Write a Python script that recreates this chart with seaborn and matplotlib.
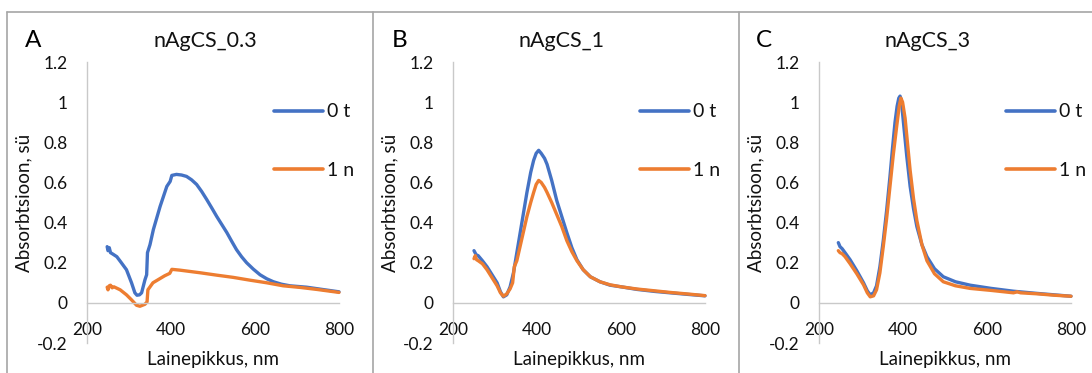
import pandas as pd
import matplotlib.pyplot as plt
import seaborn as sns
from matplotlib.lines import Line2D

# Data (wavelength in nm, absorbance)

a_t0_wl = [248, 250, 253, 256, 260, 271, 280, 294, 306, 314, 319, 325, 330, 338, 342, 344,
           350, 358, 374, 390, 398, 402, 413, 425, 437, 449, 461, 473, 485, 497, 509, 521,
           533, 545, 556, 568, 580, 596, 612, 628, 644, 663, 683, 723, 763, 800]
a_t0_abs = [0.28, 0.26, 0.275, 0.25, 0.245, 0.23, 0.205, 0.165, 0.10, 0.05, 0.038, 0.04, 0.05,
            0.115, 0.14, 0.25, 0.29, 0.365, 0.48, 0.58, 0.605, 0.635, 0.64, 0.637, 0.63,
            0.613, 0.59, 0.555, 0.515, 0.473, 0.43, 0.39, 0.35, 0.305, 0.265, 0.23, 0.20,
            0.168, 0.14, 0.12, 0.105, 0.093, 0.085, 0.078, 0.066, 0.055]

a_n1_wl = [248, 250, 253, 256, 260, 264, 279, 294, 306, 318, 326, 338, 343, 345, 357, 369,
           385, 397, 402, 421, 469, 509, 548, 588, 628, 667, 707, 747, 800]
a_n1_abs = [0.078, 0.065, 0.085, 0.088, 0.075, 0.08, 0.065, 0.04, 0.015, -0.012, -0.017,
            -0.007, 0.005, 0.065, 0.10, 0.115, 0.135, 0.147, 0.167, 0.163, 0.15, 0.138,
            0.127, 0.113, 0.10, 0.085, 0.077, 0.067, 0.052]

b_t0_wl = [250, 255, 260, 270, 281, 293, 305, 313, 320, 328, 336, 344, 352, 364, 376, 385,
           392, 398, 404, 410, 418, 424, 435, 447, 459, 471, 483, 495, 510, 527, 550, 574,
           600, 638, 680, 717, 760, 800]
b_t0_abs = [0.26, 0.24, 0.235, 0.21, 0.18, 0.14, 0.10, 0.055, 0.03, 0.04, 0.08, 0.15, 0.25,
            0.40, 0.55, 0.65, 0.71, 0.745, 0.76, 0.745, 0.72, 0.69, 0.61, 0.51, 0.43, 0.35,
            0.275, 0.215, 0.165, 0.13, 0.105, 0.088, 0.08, 0.067, 0.057, 0.05, 0.042, 0.035]

b_n1_wl = [250, 253, 256, 260, 270, 281, 293, 305, 313, 320, 328, 336, 342, 346, 352, 364,
           376, 385, 392, 398, 404, 410, 418, 424, 435, 447, 459, 471, 483, 495, 510, 527,
           550, 574, 600, 638, 680, 717, 760, 800]
b_n1_abs = [0.22, 0.235, 0.215, 0.21, 0.195, 0.165, 0.125, 0.085, 0.05, 0.033, 0.045, 0.07,
            0.10, 0.18, 0.21, 0.32, 0.43, 0.50, 0.55, 0.59, 0.61, 0.60, 0.575, 0.55, 0.50,
            0.44, 0.38, 0.31, 0.255, 0.21, 0.165, 0.13, 0.105, 0.09, 0.08, 0.069, 0.06,
            0.052, 0.044, 0.036]

c_t0_wl = [246, 250, 255, 262, 274, 290, 306, 315, 322, 330, 337, 345, 353, 361, 369, 375,
           381, 386, 390, 393, 396, 401, 409, 417, 425, 433, 445, 457, 475, 496, 525, 560,
           610, 663, 720, 760, 800]
c_t0_abs = [0.30, 0.28, 0.27, 0.25, 0.215, 0.16, 0.10, 0.06, 0.04, 0.05, 0.085, 0.18, 0.31,
            0.46, 0.63, 0.77, 0.90, 0.98, 1.02, 1.03, 1.01, 0.90, 0.73, 0.58, 0.47, 0.38,
            0.29, 0.23, 0.17, 0.13, 0.105, 0.088, 0.072, 0.058, 0.047, 0.04, 0.033]

c_n1_wl = [246, 250, 255, 262, 274, 290, 306, 315, 322, 330, 337, 345, 353, 361, 369, 377,
           385, 391, 395, 399, 405, 411, 417, 425, 433, 445, 457, 475, 496, 525, 560, 610,
           663, 672, 680, 720, 760, 800]
c_n1_abs = [0.26, 0.25, 0.245, 0.23, 0.195, 0.145, 0.09, 0.05, 0.03, 0.035, 0.065, 0.15,
            0.28, 0.42, 0.58, 0.74, 0.88, 0.98, 1.02, 1.00, 0.92, 0.79, 0.66, 0.52, 0.41,
            0.29, 0.21, 0.145, 0.105, 0.085, 0.072, 0.062, 0.05, 0.055, 0.05, 0.045, 0.038,
            0.033]

series_names = ["0 t", "1 n"]
panel_titles = ["nAgCS_0.3", "nAgCS_1", "nAgCS_3"]
panel_letters = ["A", "B", "C"]
x_ticks = [200, 400, 600, 800]
y_ticks = [-0.2, 0, 0.2, 0.4, 0.6, 0.8, 1, 1.2]
y_tick_labels = ["-0.2", "0", "0.2", "0.4", "0.6", "0.8", "1", "1.2"]
x_label = "Lainepikkus, nm"
y_label = "Absorbtsioon, sü"

panels = [
    ((a_t0_wl, a_t0_abs), (a_n1_wl, a_n1_abs)),
    ((b_t0_wl, b_t0_abs), (b_n1_wl, b_n1_abs)),
    ((c_t0_wl, c_t0_abs), (c_n1_wl, c_n1_abs)),
]

# Layout (pixels of the 1092x373 picture)
W, H = 1092, 373
axes_left_px = [87, 453, 819]
title_center_px = [205, 562, 928]
letter_left_px = [25, 392, 756]
border_x_px = [7, 373, 739]

sns.set_theme(style="white")
plt.rcParams['font.family'] = ['Lato', 'DejaVu Sans']

palette = {"0 t": "#4472C4", "1 n": "#ED7D31"}
axis_grey = "#C9C9C9"
text_col = "#111111"

fig = plt.figure(figsize=(W / 100, H / 100), dpi=100)

# panel borders
fig.add_artist(Line2D([7 / W, 1], [1 - 12 / H, 1 - 12 / H], transform=fig.transFigure,
                      color="#A6A6A6", lw=1.2))
for bx in border_x_px:
    fig.add_artist(Line2D([bx / W, bx / W], [0, 1 - 12 / H], transform=fig.transFigure,
                          color="#A6A6A6", lw=1.2))

for i, (s0, s1) in enumerate(panels):
    df = pd.concat([
        pd.DataFrame({"wl": s0[0], "abs": s0[1], "series": series_names[0]}),
        pd.DataFrame({"wl": s1[0], "abs": s1[1], "series": series_names[1]}),
    ])
    ax = fig.add_axes([axes_left_px[i] / W, 30 / H, 252 / W, 281 / H])
    sns.lineplot(data=df, x="wl", y="abs", hue="series", palette=palette,
                 estimator=None, sort=False, linewidth=2.4, ax=ax, clip_on=False)

    ax.set_xlim(200, 800)
    ax.set_ylim(-0.2, 1.2)
    ax.set_xticks(x_ticks)
    ax.set_xticklabels([str(t) for t in x_ticks])
    ax.set_yticks(y_ticks)
    ax.set_yticklabels(y_tick_labels)
    ax.tick_params(axis="both", length=0, labelsize=12.5, labelcolor=text_col)
    ax.tick_params(axis="x", pad=13.5)
    ax.tick_params(axis="y", pad=14)

    for side in ["top", "right"]:
        ax.spines[side].set_visible(False)
    ax.spines["bottom"].set_position(("data", 0))
    for side in ["left", "bottom"]:
        ax.spines[side].set_color(axis_grey)
        ax.spines[side].set_linewidth(1.0)
    ax.grid(False)

    ax.set_xlabel(x_label, fontsize=13.5, color=text_col)
    ax.xaxis.set_label_coords(0.5, -0.03)
    ax.set_ylabel(y_label, fontsize=13.5, color=text_col)
    ax.yaxis.set_label_coords(-0.215, 0.5)

    sns.move_legend(ax, "upper left", bbox_to_anchor=(0.744, 0.853), frameon=False,
                    title=None, fontsize=14, handlelength=2.5, handletextpad=0.2,
                    labelspacing=2.15, borderpad=0, borderaxespad=0)
    for line in ax.get_legend().get_lines():
        line.set_linewidth(2.6)
    for t in ax.get_legend().get_texts():
        t.set_color(text_col)

    fig.text(title_center_px[i] / W, 1 - 47 / H, panel_titles[i], ha="center",
             va="baseline", fontsize=15.5, color=text_col)
    fig.text(letter_left_px[i] / W, 1 - 47 / H, panel_letters[i], ha="left",
             va="baseline", fontsize=17.5, color="#000000")

fig.savefig("out.png", dpi=100, facecolor="white")
